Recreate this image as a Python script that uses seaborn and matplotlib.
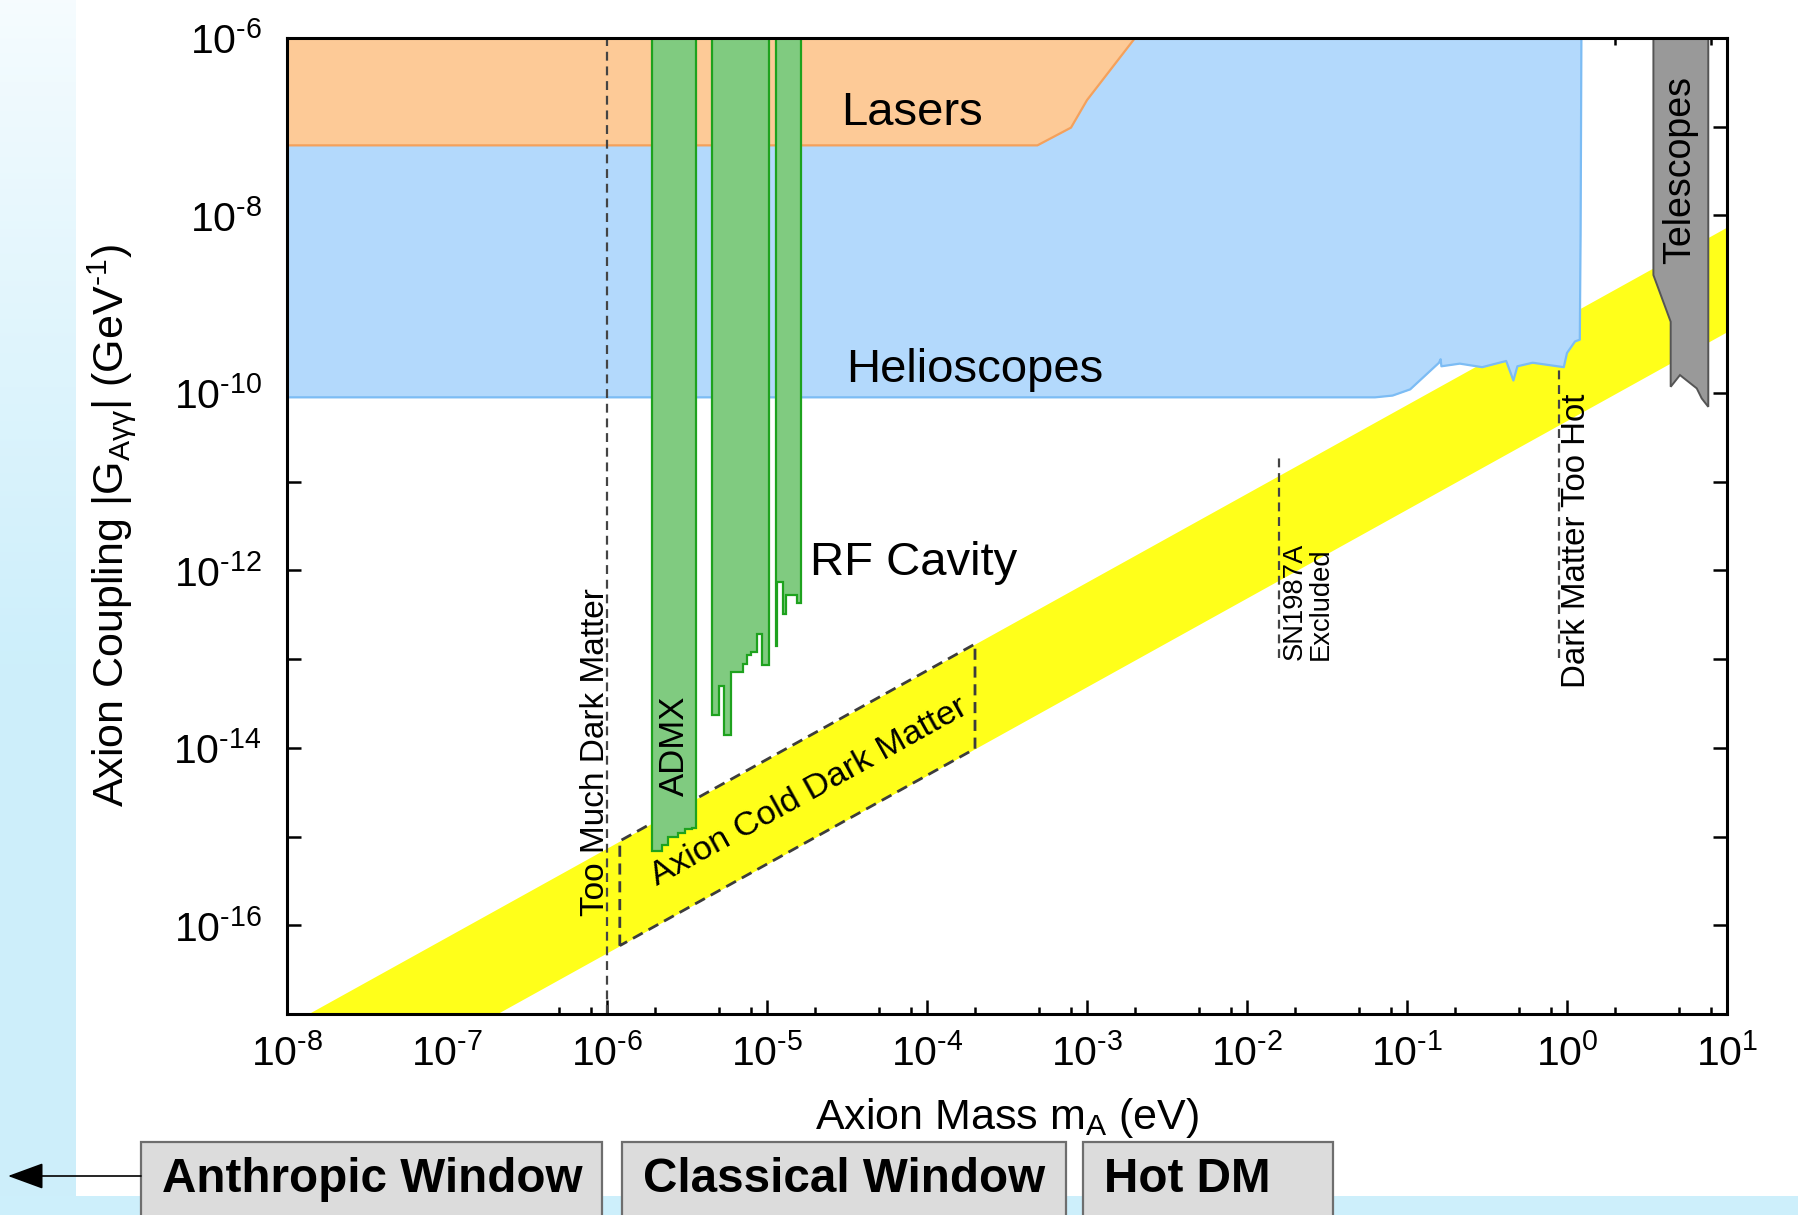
import numpy as np
import pandas as pd
import matplotlib
matplotlib.use("Agg")
import matplotlib.pyplot as plt
from matplotlib.ticker import FixedLocator, FuncFormatter, NullLocator
from matplotlib.patches import Rectangle
import seaborn as sns

# ---------------------------------------------------------------------------
# Data: log10(mass / eV) and log10(|G_Agg| / GeV^-1)
# ---------------------------------------------------------------------------
# axion model band (straight lines in log-log space)
band_logm = [-8.0, 1.0]
band_upper_logg = [-17.13, -8.13]
band_lower_logg = [-18.31, -9.31]

# laser experiments (lower boundary; excluded up to the top of the plot)
lasers_logm = [-8.0, -3.31, -3.10, -3.00, -2.70]
lasers_logg = [-7.21, -7.21, -7.01, -6.70, -6.00]

# helioscopes (lower boundary)
helio_logm = [-8.0, -1.20, -1.09, -0.98, -0.80, -0.79, -0.785, -0.67, -0.53,
              -0.38, -0.335, -0.31, -0.215, -0.02, 0.00, 0.05, 0.08, 0.085, 0.09]
helio_logg = [-10.05, -10.05, -10.03, -9.96, -9.66, -9.62, -9.70, -9.67, -9.71,
              -9.64, -9.86, -9.70, -9.66, -9.71, -9.55, -9.42, -9.40, -8.22, -6.00]

# ADMX microwave cavity exclusion
admx_logm = [-5.717, -5.717, -5.654, -5.654, -5.617, -5.617, -5.554, -5.554,
             -5.5125, -5.5125, -5.471, -5.471, -5.446, -5.446]
admx_logg = [-6.0, -15.16, -15.16, -15.10, -15.10, -15.01, -15.01, -14.955,
             -14.955, -14.92, -14.92, -14.90, -14.90, -6.0]

# other RF cavity exclusions
rf1_logm = [-5.346, -5.346, -5.298, -5.298, -5.269, -5.269, -5.225, -5.225,
            -5.152, -5.152, -5.127, -5.127, -5.100, -5.100, -5.065, -5.065,
            -5.029, -5.029, -4.9875, -4.9875]
rf1_logg = [-6.0, -13.625, -13.625, -13.306, -13.306, -13.858, -13.858, -13.144,
            -13.144, -13.05, -13.05, -12.956, -12.956, -12.919, -12.919, -12.712,
            -12.712, -13.069, -13.069, -6.0]

rf2_logm = [-4.946, -4.946, -4.936, -4.936, -4.898, -4.898, -4.884, -4.884,
            -4.814, -4.814, -4.785, -4.785]
rf2_logg = [-6.0, -12.85, -12.85, -12.13, -12.13, -12.49, -12.49, -12.28,
            -12.28, -12.37, -12.37, -6.0]

# telescope searches
tele_logm = [0.540, 0.540, 0.648, 0.648, 0.706, 0.811, 0.842, 0.883, 0.883]
tele_logg = [-6.0, -8.672, -9.198, -9.931, -9.799, -9.949, -10.062, -10.157, -6.0]

# cold dark matter window (edges follow the model band)
cdm_logm = [-5.92, -5.92, -3.70, -3.70, -5.92]
cdm_logg = [-16.23, -15.05, -12.83, -14.01, -16.23]

# vertical bounds: (log mass, lower log g, upper log g)
too_much_dm = (-6.0, -17.0, -6.0)
sn1987a = (-1.798, -12.99, -10.68)
dm_too_hot = (-0.048, -12.99, -9.687)

x_major_exp = list(range(-8, 2))
y_major_exp = list(range(-17, -5))
minor_subs = [2, 5, 8]

window_labels = ["Anthropic Window", "Classical Window", "Hot DM"]

HYPHEN = "\u2010"


def p10(v):
    return 10.0 ** np.asarray(v, dtype=float)


# ---------------------------------------------------------------------------
# Style
# ---------------------------------------------------------------------------
sns.set_style("ticks")
plt.rcParams["font.family"] = ["Liberation Sans", "DejaVu Sans"]
plt.rcParams["mathtext.fontset"] = "custom"
plt.rcParams["mathtext.rm"] = "Liberation Sans"
plt.rcParams["mathtext.it"] = "Liberation Sans:italic"
plt.rcParams["mathtext.bf"] = "Liberation Sans:bold"
for key in ["text.color", "axes.labelcolor", "xtick.color", "ytick.color",
            "axes.edgecolor"]:
    plt.rcParams[key] = "black"

W, H = 1799, 1215
fig = plt.figure(figsize=(W / 100, H / 100), dpi=100, facecolor="white")

# page background: pale blue strip on the left and along the bottom
bg = fig.add_axes([0, 0, 1, 1], zorder=0)
bg.set_xlim(0, W)
bg.set_ylim(H, 0)
bg.axis("off")
top_c = np.array([0.965, 0.988, 0.998])
bot_c = np.array([0.804, 0.937, 0.984])
t = np.linspace(0, 1, 300)[:, None]
w = np.clip(t / 0.55, 0, 1) ** 0.9
grad = top_c[None, :] * (1 - w) + bot_c[None, :] * w
bg.imshow(grad[:, None, :].repeat(2, axis=1), extent=(0, 76, H, 0),
          aspect="auto", interpolation="bilinear", zorder=0)
bg.add_patch(Rectangle((0, 1196), W, 30, facecolor=bot_c, edgecolor="none", zorder=0))

# window boxes below the mass axis
box_x = [(141, 602), (622, 1066), (1083, 1333)]
for (x0, x1), lab in zip(box_x, window_labels):
    bg.add_patch(Rectangle((x0, 1142), x1 - x0, 80, facecolor="#dcdcdc",
                           edgecolor="#6e6e6e", lw=1.6, zorder=2))
    bg.text(x0 + 21, 1179, lab, fontsize=34.3, fontweight="bold",
            ha="left", va="center", color="black", zorder=3)
bg.annotate("", xy=(8, 1176), xytext=(141, 1176),
            arrowprops=dict(arrowstyle="-|>,head_length=1.5,head_width=0.55",
                            mutation_scale=15, lw=1.2, color="black",
                            shrinkA=0, shrinkB=0), zorder=3)

# ---------------------------------------------------------------------------
# Main axes
# ---------------------------------------------------------------------------
ax = fig.add_axes([287 / W, 1 - 1014 / H, 1440 / W, 976 / H], zorder=1)
ax.set_xscale("log")
ax.set_yscale("log")
ax.set_xlim(1e-8, 10)
ax.set_ylim(1e-17, 1e-6)
ax.set_facecolor("white")

# model band
ax.fill_between(p10(band_logm), p10(band_lower_logg), p10(band_upper_logg),
                color="#ffff1a", lw=0, zorder=1)

# helioscopes and lasers
ax.fill_between(p10(helio_logm), p10(helio_logg), 1e-6, color="#b3d9fc", lw=0, zorder=2)
ax.plot(p10(helio_logm), p10(helio_logg), color="#7cbcf4", lw=1.6, zorder=2)
ax.fill_between(p10(lasers_logm), p10(lasers_logg), 1e-6, color="#fdca97", lw=0, zorder=3)
ax.plot(p10(lasers_logm), p10(lasers_logg), color="#f4a15c", lw=1.6, zorder=3)

# vertical dashed bounds
lines = pd.DataFrame({
    "m": p10([too_much_dm[0], too_much_dm[0], sn1987a[0], sn1987a[0],
              dm_too_hot[0], dm_too_hot[0]]),
    "g": p10([too_much_dm[1], too_much_dm[2], sn1987a[1], sn1987a[2],
              dm_too_hot[1], dm_too_hot[2]]),
    "bound": ["tmdm", "tmdm", "sn", "sn", "hot", "hot"],
})
for name, sub in lines.groupby("bound", sort=False):
    sns.lineplot(data=sub, x="m", y="g", ax=ax, color="#444444", lw=1.6,
                 dashes=False, sort=False, estimator=None, legend=False, zorder=4)
for ln in ax.get_lines()[-3:]:
    ln.set_dashes((4.0, 2.6))

# cold dark matter window
ax.plot(p10(cdm_logm), p10(cdm_logg), color="#3c3c3c", lw=2.0,
        dashes=(4.0, 2.4), zorder=4)

# cavity searches
for xm, yg in [(admx_logm, admx_logg), (rf1_logm, rf1_logg), (rf2_logm, rf2_logg)]:
    ax.fill(p10(xm), p10(yg), facecolor="#80cb80", edgecolor="#1ea21e",
            lw=1.6, zorder=5)

# telescopes
ax.fill(p10(tele_logm), p10(tele_logg), facecolor="#999999", edgecolor="#555555",
        lw=1.4, zorder=5)

# region labels
ax.text(10 ** -4.094, 10 ** -6.85, "Lasers", fontsize=34, ha="center", va="center", zorder=6)
ax.text(10 ** -3.70, 10 ** -9.74, "Helioscopes", fontsize=34, ha="center", va="center", zorder=6)
ax.text(10 ** -4.731, 10 ** -11.92, "RF Cavity", fontsize=34, ha="left", va="center", zorder=6)
ax.text(10 ** 0.704, 10 ** -7.486, "Telescopes", fontsize=27, rotation=90,
        ha="center", va="center", zorder=6)
ax.text(10 ** -5.577, 10 ** -13.98, "ADMX", fontsize=25, rotation=90,
        ha="center", va="center", zorder=6)
ax.text(10 ** -6.07, 10 ** -15.89, "Too Much Dark Matter", fontsize=24, rotation=90,
        ha="center", va="bottom", zorder=6)
ax.text(10 ** -4.7375, 10 ** -14.496, "Axion Cold Dark Matter", fontsize=24.8,
        rotation=29.0, rotation_mode="anchor", ha="center", va="center", zorder=6)
ax.text(10 ** -1.62, 10 ** -13.01, "SN1987A\nExcluded", fontsize=19.7, rotation=90,
        ha="center", va="bottom", multialignment="left", linespacing=1.0, zorder=6)
ax.text(10 ** 0.06, 10 ** -13.33, "Dark Matter Too Hot", fontsize=23.8, rotation=90,
        ha="center", va="bottom", zorder=6)

# ticks
ax.xaxis.set_major_locator(FixedLocator(p10(x_major_exp)))
ax.xaxis.set_minor_locator(FixedLocator([k * 10.0 ** e for e in x_major_exp[:-1]
                                         for k in minor_subs]))
ax.yaxis.set_major_locator(FixedLocator(p10(y_major_exp)))
ax.yaxis.set_minor_locator(NullLocator())


def pow_label(v, pos):
    e = int(round(np.log10(v)))
    s = str(e).replace("-", HYPHEN)
    return "$\\mathregular{10^{%s}}$" % s


def pow_label_even(v, pos):
    e = int(round(np.log10(v)))
    return pow_label(v, pos) if e % 2 == 0 else ""


ax.xaxis.set_major_formatter(FuncFormatter(pow_label))
ax.yaxis.set_major_formatter(FuncFormatter(pow_label_even))
ax.tick_params(which="both", direction="in", top=True, right=True,
               width=1.8, colors="black", labelsize=29.5)
ax.tick_params(which="major", length=10)
ax.tick_params(which="minor", length=5)
ax.tick_params(axis="x", pad=14)
ax.tick_params(axis="y", pad=18)
for s in ax.spines.values():
    s.set_linewidth(2.2)
    s.set_color("black")
    s.set_zorder(7)

ax.set_xlabel("Axion Mass m$_{\\mathregular{A}}$ (eV)", fontsize=31)
ax.xaxis.set_label_coords(0.5, -0.107)
ax.xaxis.label.set_va("center")
ax.set_ylabel("Axion Coupling |G$_{\\mathregular{A\\gamma\\gamma}}$| (GeV$^{\\mathregular{"
              + HYPHEN + "1}}$)", fontsize=31)
ax.yaxis.set_label_coords(-0.122, 0.5)
ax.yaxis.label.set_va("center")

fig.savefig("out.png", dpi=100, facecolor=fig.get_facecolor())
